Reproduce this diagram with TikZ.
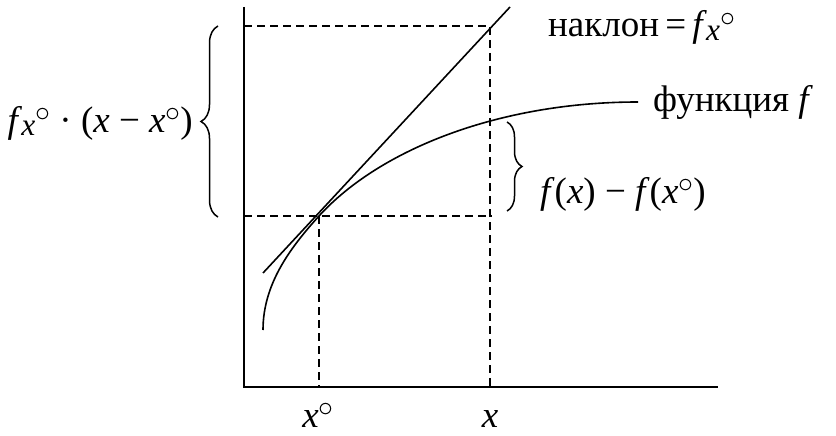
\documentclass[tikz,border=0pt]{standalone}
\usepackage{fontspec}
\setmainfont{Liberation Serif}
\usepackage{graphicx}
\usetikzlibrary{decorations.pathreplacing}
\newcommand\mydeg{\raisebox{0.28em}{\scalebox{1.2}{$\circ$}}}
\newcommand\myfx{\textit{f}\kern-0.02em\raisebox{-0.09em}{\scalebox{0.85}{\textit{x}}}\mydeg}
\begin{document}
\begin{tikzpicture}[x=1pt,y=-1pt,
  every node/.style={inner sep=0pt,font=\fontsize{37}{44}\selectfont},
  axis/.style={line width=1.5pt},
  guide/.style={line width=1.5pt,dash pattern=on 8pt off 5pt},
  curve/.style={line width=1.6pt},
  brc/.style={line width=1.5pt,decorate,decoration={brace,amplitude=#1}}]
\useasboundingbox (0,0) rectangle (836,436);
% axes
\coordinate (O) at (244,387);
\coordinate (ytop) at (244,7);
\coordinate (xend) at (718,387);
\draw[axis] (ytop) -- (O) -- (xend);
% guide points
\coordinate (P0) at (319,216);
\coordinate (P1) at (490,26);
\coordinate (L0) at (244,216);
\coordinate (L1) at (244,26);
\coordinate (B0) at (319,387);
\coordinate (B1) at (490,387);
\coordinate (R0) at (492,216);
\draw[guide] (L1) -- (P1) -- (B1);
\draw[guide] (L0) -- (R0);
\draw[guide] (P0) -- (B0);
% tangent
\coordinate (T0) at (263,273);
\coordinate (T1) at (510,7);
\draw[curve] (T0) -- (T1);
% function curve
\coordinate (C0) at (263,330);
\coordinate (C1) at (638,102);
\draw[curve] (C0) .. controls (263,285) and (289,249) .. (P0)
  .. controls (380,149) and (500,102) .. (C1);
% braces
\coordinate (lb0) at (218,217);
\coordinate (lb1) at (218,26);
\draw[brc=17pt] (lb0) -- (lb1);
\coordinate (rb0) at (507,122);
\coordinate (rb1) at (507,211);
\draw[brc=15pt] (rb0) -- (rb1);
% labels
\node[anchor=base west] (slope) at (548,37) {наклон\,=\,\myfx};
\node[anchor=base west] (func) at (653,112) {функция \textit{f}};
\node[anchor=base east] (lhs) at (193,132) {\myfx\ · (\textit{x} − \textit{x}\mydeg)};
\node[anchor=base west] (rhs) at (540,203) {\textit{f}(\textit{x}) − \textit{f}(\textit{x}\mydeg)};
\node[anchor=base] (x0) at (318,427) {\textit{x}\mydeg};
\node[anchor=base] (x1) at (490,427) {\textit{x}};
\end{tikzpicture}
\end{document}
